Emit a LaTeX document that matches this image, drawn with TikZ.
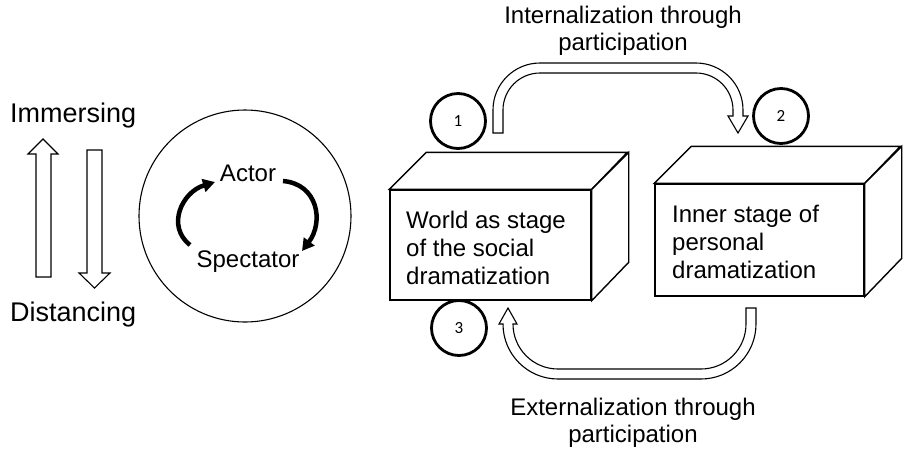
\documentclass[tikz,border=0pt]{standalone}
\usepackage{fontspec}
\setmainfont{Liberation Sans}
\newfontfamily\numfont{Carlito}
\usetikzlibrary{arrows.meta}
\begin{document}
\begin{tikzpicture}[x=1pt,y=-1pt,
  lbl/.style={font=\fontsize{24}{27}\selectfont, align=center, inner sep=0pt},
  bigl/.style={font=\fontsize{27}{30}\selectfont, anchor=west, inner sep=0pt},
  boxtxt/.style={font=\fontsize{24}{28}\selectfont, align=left, anchor=west, inner sep=0pt},
  numc/.style={circle, draw, line width=2.8pt, minimum size=55pt, inner sep=0pt, font=\numfont\fontsize{17}{17}\selectfont},
  face/.style={draw, line width=1.4pt, fill=white},
  hollow/.style={draw, line width=1.1pt, fill=white, line join=miter},
  thickarr/.style={line width=4.5pt, -{Triangle[length=12pt,width=13pt]}}
]
\useasboundingbox (0,0) rectangle (903,451);

% left labels
\node[bigl] (imm) at (10,116) {Immersing};
\node[bigl] (dist) at (10,315) {Distancing};

% hollow straight arrows
\path[hollow] (36,277) -- (36,154) -- (28,154) -- (43,139) -- (58,154) -- (51,154) -- (51,277) -- cycle;
\path[hollow] (87,150) -- (87,273) -- (79,273) -- (94.5,288) -- (110,273) -- (102,273) -- (102,150) -- cycle;

% big circle
\node[circle, draw, line width=1.1pt, minimum size=212pt, inner sep=0pt] (big) at (245,216) {};
\node[lbl] (actor) at (248,173) {Actor};
\node[lbl] (spect) at (248,262) {Spectator};
\coordinate (a1) at (190,245);
\coordinate (a2) at (215,182);
\coordinate (b1) at (283,181);
\coordinate (b2) at (302,251);
\draw[thickarr] (a1) .. controls (166,226) and (182,192) .. (a2);
\draw[thickarr] (b1) .. controls (318,184) and (324,222) .. (b2);

% box 1
\node[face, minimum width=201pt, minimum height=110pt, inner sep=0pt] (box1) at (490.5,245) {};
\path[face] (box1.north west) -- ++(37,-37) -- ++(201,0) -- (box1.north east) -- cycle;
\path[face] (box1.north east) -- ++(37,-37) -- ++(0,110) -- (box1.south east) -- cycle;
\node[boxtxt] (t1) at (406,248) {World as stage\\of the social\\dramatization};

% box 2
\node[face, minimum width=209pt, minimum height=112pt, inner sep=0pt] (box2) at (759.5,240) {};
\path[face] (box2.north west) -- ++(37,-37) -- ++(209,0) -- (box2.north east) -- cycle;
\path[face] (box2.north east) -- ++(37,-37) -- ++(0,112) -- (box2.south east) -- cycle;
\node[boxtxt] (t2) at (672,242) {Inner stage of\\personal\\dramatization};

% numbered circles
\node[numc] (n1) at (458,121) {1};
\node[numc] (n2) at (781,116) {2};
\node[numc] (n3) at (459,328) {3};

% top curved hollow arrow
\path[hollow] (493,133) -- (493,110) arc[start angle=180, end angle=270, radius=47] -- (696,63)
  arc[start angle=270, end angle=360, radius=47] -- (743,116) -- (748,116) -- (738,133) -- (728,116) -- (733,116)
  -- (733,110) arc[start angle=0, end angle=-90, radius=37] -- (540,73)
  arc[start angle=270, end angle=180, radius=37] -- (503,133) -- cycle;

% bottom curved hollow arrow
\path[hollow] (756,308) -- (756,324) arc[start angle=0, end angle=90, radius=55] -- (558,379)
  arc[start angle=90, end angle=180, radius=55] -- (503,324) -- (499,324) -- (508,308) -- (517,324) -- (513,324)
  arc[start angle=180, end angle=90, radius=45] -- (701,369)
  arc[start angle=90, end angle=0, radius=45] -- (746,308) -- cycle;

% arrow labels
\node[lbl] (lin) at (623,31) {Internalization through\\participation};
\node[lbl] (lex) at (633,423) {Externalization through\\participation};
\end{tikzpicture}
\end{document}
